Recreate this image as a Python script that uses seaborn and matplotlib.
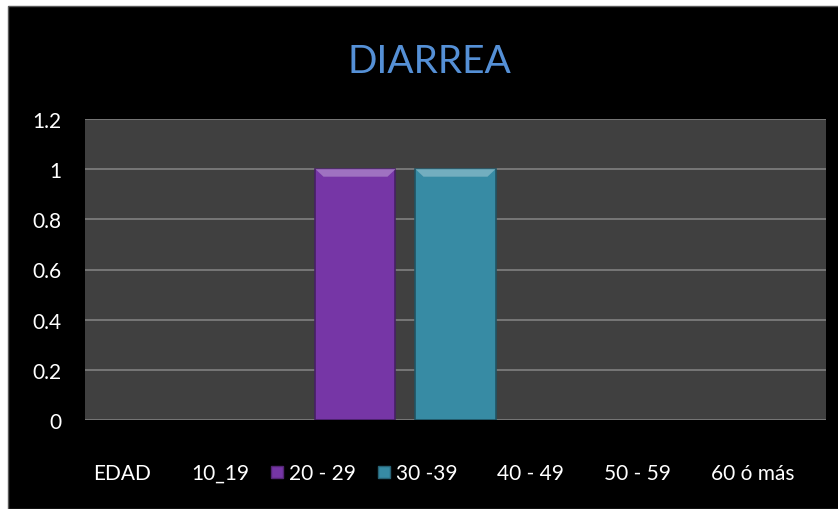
import matplotlib
matplotlib.use("Agg")
import matplotlib.pyplot as plt
from matplotlib.patches import Rectangle, Polygon
from matplotlib.lines import Line2D
import matplotlib.colors as mcolors
import seaborn as sns
import pandas as pd

# Cases of diarrhoea by age group
series = ["EDAD", "10_19", "20 - 29", "30 -39", "40 - 49", "50 - 59", "60 ó más"]
values = [0, 0, 1, 1, 0, 0, 0]
colors = ["#4F81BD", "#C0504D", "#7636A6", "#378BA4", "#F79646", "#2C4D75", "#772C2A"]
y_ticks = [0, 0.2, 0.4, 0.6, 0.8, 1, 1.2]
y_tick_labels = ["0", "0.2", "0.4", "0.6", "0.8", "1", "1.2"]

W, H = 838, 510
sns.set_theme(style="dark")
plt.rcParams["font.family"] = ["Lato", "DejaVu Sans"]

fig = plt.figure(figsize=(W / 100, H / 100), dpi=100)
fig.patch.set_facecolor("white")
fig.add_artist(Rectangle((8 / W, 0), 1, 1 - 7 / H, transform=fig.transFigure,
                         facecolor="black", edgecolor="#5a5a5a", linewidth=1, zorder=0))

ax = fig.add_axes([85 / W, 1 - 421 / H, (826 - 85) / W, (421 - 120) / H])
ax.set_facecolor("#404040")

df = pd.DataFrame({"grupo": [""] * len(series), "serie": series, "valor": values})
sns.barplot(data=df, x="grupo", y="valor", hue="serie", hue_order=series,
            palette=colors, width=0.9447, gap=0.2, legend=False, ax=ax,
            saturation=1, zorder=3)

# darker outline plus a light bevel along the top of each bar
for patch in ax.patches:
    h = patch.get_height()
    if h <= 0:
        patch.set_linewidth(0)
        patch.set_visible(False)
        continue
    base = mcolors.to_rgb(patch.get_facecolor())
    dark = tuple(c * 0.6 for c in base)
    light = tuple(min(1, c + (1 - c) * 0.3) for c in base)
    patch.set_edgecolor(dark)
    patch.set_linewidth(1.2)
    x0 = patch.get_x()
    w = patch.get_width()
    inset = w * 0.1
    band = h * 0.03
    ax.add_patch(Polygon([(x0, h), (x0 + w, h), (x0 + w - inset, h - band), (x0 + inset, h - band)],
                         closed=True, facecolor=light, edgecolor="none", zorder=4))

ax.set_xlim(-0.5, 0.5)
ax.set_ylim(0, 1.2)
ax.set_yticks(y_ticks)
ax.set_yticklabels(y_tick_labels)
ax.set_xticks([])
ax.set_xlabel("")
ax.set_ylabel("")
ax.grid(axis="y", color="#808080", linewidth=1.2)
ax.set_axisbelow(True)
for s in ax.spines.values():
    s.set_visible(False)
ax.tick_params(axis="y", length=0, pad=17, labelsize=15, labelcolor="white")

fig.text(429.5 / W, 1 - 73 / H, "DIARREA", ha="center", va="baseline",
         fontsize=28, color="#5590D6")

handles = []
for name, col, val in zip(series, colors, values):
    if val > 0:
        handles.append(Line2D([], [], linestyle="none", marker="s", markersize=8,
                              markerfacecolor=col, markeredgecolor=tuple(c * 0.7 for c in mcolors.to_rgb(col))))
    else:
        handles.append(Line2D([], [], linestyle="none", marker="s", markersize=8,
                              markerfacecolor="none", markeredgecolor="none"))
leg = fig.legend(handles, series, loc="center left", bbox_to_anchor=(76 / W, 1 - 474 / H),
                 ncol=len(series), frameon=False, fontsize=15, handlelength=0.53,
                 handletextpad=0.29, columnspacing=1.1, borderpad=0, borderaxespad=0)
for t in leg.get_texts():
    t.set_color("white")

fig.savefig("out.png", dpi=100, facecolor=fig.get_facecolor())
